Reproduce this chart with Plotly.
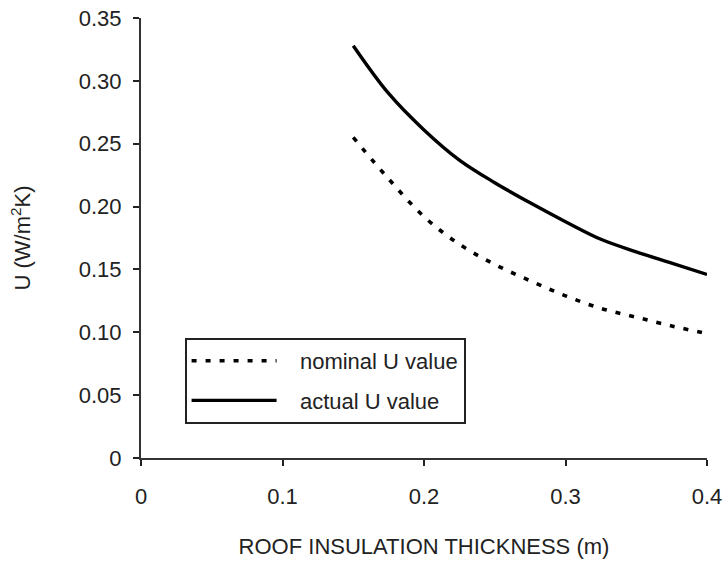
import plotly.graph_objects as go

thickness = [0.15, 0.175, 0.2, 0.225, 0.25, 0.275, 0.3, 0.325, 0.35, 0.375, 0.4]
nominal_u = [0.255, 0.222, 0.192, 0.170, 0.154, 0.141, 0.129, 0.119, 0.112, 0.105, 0.099]
actual_u = [0.328, 0.290, 0.261, 0.237, 0.219, 0.203, 0.188, 0.174, 0.164, 0.155, 0.146]

x_ticks = [0, 0.1, 0.2, 0.3, 0.4]
x_labels = ["0", "0.1", "0.2", "0.3", "0.4"]
y_ticks = [0, 0.05, 0.1, 0.15, 0.2, 0.25, 0.3, 0.35]
y_labels = ["0", "0.05", "0.10", "0.15", "0.20", "0.25", "0.30", "0.35"]

FONT = "Liberation Sans, Arial, sans-serif"
FS = 22
PAD = "\u00a0\u00a0\u00a0"

fig = go.Figure()
fig.add_trace(go.Scatter(x=thickness, y=nominal_u, mode="lines", name=PAD + "nominal U value",
                         legendgroup="a",
                         line=dict(color="black", width=3.6, dash="5px,9px", shape="spline", smoothing=1.0)))
fig.add_trace(go.Scatter(x=thickness, y=actual_u, mode="lines", name=PAD + "actual U value",
                         legendgroup="b",
                         line=dict(color="black", width=3.4, shape="spline", smoothing=1.0)))

fig.update_layout(
    width=728, height=566,
    margin=dict(l=141, r=21, t=18, b=108),
    paper_bgcolor="white", plot_bgcolor="white",
    font=dict(family=FONT, size=FS, color="#222"),
    showlegend=True,
    legend=dict(x=0.077, y=0.2727, xanchor="left", yanchor="top",
                bordercolor="#222", borderwidth=2, bgcolor="white",
                font=dict(size=FS, color="#222"), itemwidth=85,
                traceorder="grouped", tracegroupgap=8),
    xaxis=dict(range=[0, 0.4], tickvals=x_ticks, ticktext=x_labels, automargin=False,
               showgrid=False, zeroline=False, showline=True, linecolor="#333", linewidth=2,
               ticks="outside", ticklen=6, tickwidth=2, tickcolor="#222",
               ticklabelstandoff=12, tickfont=dict(size=FS),
               title=dict(text="ROOF INSULATION THICKNESS (m)", standoff=30,
                          font=dict(size=FS, color="#222"))),
    yaxis=dict(range=[0, 0.35], tickvals=y_ticks, ticktext=y_labels, automargin=False,
               showgrid=False, zeroline=False, showline=True, linecolor="#333", linewidth=2,
               ticks="outside", ticklen=6, tickwidth=2, tickcolor="#222",
               ticklabelstandoff=7, tickfont=dict(size=FS),
               title=dict(text="U (W/m<sup>2</sup>K)", standoff=42,
                          font=dict(size=FS, color="#222"))),
    xaxis2=dict(range=[0, 0.4], overlaying="x", anchor="y", side="bottom", automargin=False,
                tickvals=x_ticks, showticklabels=False, showgrid=False, zeroline=False,
                showline=False, ticks="inside", ticklen=6, tickwidth=2, tickcolor="#222"),
    yaxis2=dict(range=[0, 0.35], overlaying="y", anchor="x", side="left", automargin=False,
                tickvals=y_ticks, showticklabels=False, showgrid=False, zeroline=False,
                showline=False, ticks="inside", ticklen=5, tickwidth=2, tickcolor="#222"),
)

fig.write_html("out.html")
